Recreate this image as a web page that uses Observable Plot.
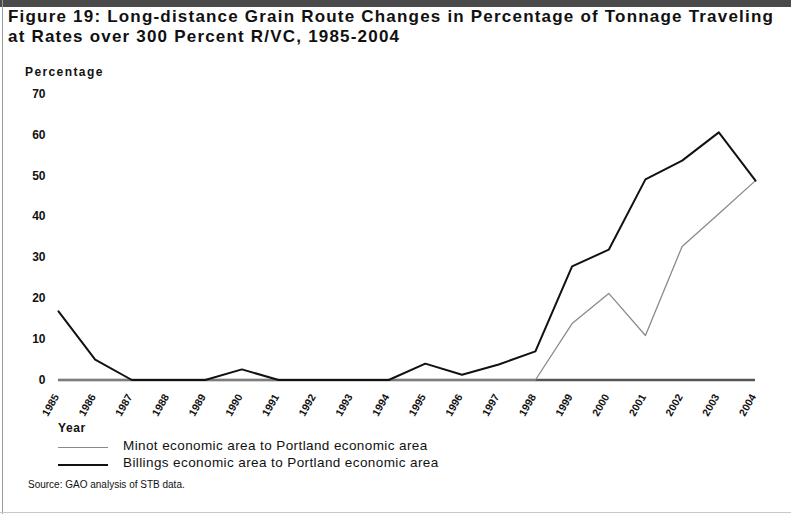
<!DOCTYPE html>
<html><head><meta charset="utf-8">
<script src="https://cdn.jsdelivr.net/npm/d3@7"></script>
<script src="https://cdn.jsdelivr.net/npm/@observablehq/plot@0.6"></script>
<style>
body{margin:0;background:#fff;}
#fig{position:relative;width:791px;height:514px;overflow:hidden;font-family:"Liberation Sans",Arial,Helvetica,sans-serif;color:#111;background:#fff;}
#bar{position:absolute;left:0;top:0;width:791px;height:7px;background:#4a4a4a;}
#lb{position:absolute;left:2px;top:0;width:1px;height:514px;background:#9a9a9a;}
#bb{position:absolute;left:0;top:512px;width:791px;height:1px;background:#c8c8c8;}
#title{position:absolute;left:8px;top:7px;font-weight:bold;font-size:17px;letter-spacing:1.2px;line-height:20px;white-space:nowrap;}
#ylab{position:absolute;left:25px;top:65px;font-weight:bold;font-size:12px;letter-spacing:1.4px;}
#chart{position:absolute;left:0;top:60px;}
#year{position:absolute;left:58px;top:421px;font-weight:bold;font-size:12px;letter-spacing:0.6px;}
.leg{position:absolute;left:58px;height:14px;font-size:13.5px;letter-spacing:0.4px;white-space:nowrap;}
.leg .sw{position:absolute;left:0;top:8px;width:50px;height:0;}
.leg .tx{position:absolute;left:65px;top:-1px;}
#src{position:absolute;left:28px;top:479px;font-size:10px;}
</style>
</head><body>
<div id="fig">
  <div id="bar"></div>
  <div id="lb"></div>
  <div id="bb"></div>
  <div id="title"></div>
  <div id="ylab"></div>
  <div id="chart"></div>
  <div id="year"></div>
  <div class="leg" id="leg0" style="top:439px"><div class="sw"></div><div class="tx"></div></div>
  <div class="leg" id="leg1" style="top:456px"><div class="sw"></div><div class="tx"></div></div>
  <div id="src"></div>
</div>
<script>
const titleLines = ["Figure 19: Long-distance Grain Route Changes in Percentage of Tonnage Traveling", "at Rates over 300 Percent R/VC, 1985-2004"];
const yAxisTitle = "Percentage";
const xAxisTitle = "Year";
const sourceNote = "Source: GAO analysis of STB data.";
const years = [1985, 1986, 1987, 1988, 1989, 1990, 1991, 1992, 1993, 1994, 1995, 1996, 1997, 1998, 1999, 2000, 2001, 2002, 2003, 2004];
const yTicks = [0, 10, 20, 30, 40, 50, 60, 70];
const seriesNames = ["Minot economic area to Portland economic area", "Billings economic area to Portland economic area"];
const seriesColors = ["#8a8a8a", "#111111"];
const seriesWidths = [1.3, 2];
const minot = [0, 0, 0, 0, 0, 0, 0, 0, 0, 0, 0, 0, 0, 0, 13.8, 21.2, 10.9, 32.7, 40.7, 48.8];
const billings = [16.8, 5.0, 0, 0, 0, 2.6, 0, 0, 0, 0, 4.0, 1.3, 3.8, 7.0, 27.8, 31.9, 49.1, 53.7, 60.6, 48.8];

const seriesValues = [minot, billings];
const rows = seriesValues.flatMap((vals, i) => years.map((yr, j) => ({year: yr, value: vals[j], series: seriesNames[i]})));

document.getElementById("title").innerHTML = titleLines.join("<br>");
document.getElementById("ylab").textContent = yAxisTitle;
document.getElementById("year").textContent = xAxisTitle;
document.getElementById("src").textContent = sourceNote;
seriesNames.forEach((n, i) => {
  const el = document.getElementById("leg" + i);
  el.querySelector(".tx").textContent = n;
  el.querySelector(".sw").style.borderTop = seriesWidths[i] + "px solid " + seriesColors[i];
});

const chart = Plot.plot({
  width: 791,
  height: 370,
  marginLeft: 58,
  marginRight: 36,
  marginTop: 33.5,
  marginBottom: 50.5,
  x: {domain: [years[0], years[years.length - 1]]},
  y: {domain: [yTicks[0], yTicks[yTicks.length - 1]]},
  style: {fontFamily: "'Liberation Sans', Arial, sans-serif", background: "transparent", color: "#111", overflow: "visible"},
  marks: [
    Plot.axisY({ticks: yTicks, tickSize: 0, tickPadding: 13, fontWeight: "bold", fontSize: 12, label: null}),
    Plot.axisX({ticks: years, tickFormat: d => String(d), tickSize: 0, tickPadding: 15, tickRotate: -60, fontWeight: "bold", fontSize: 10.5, dx: -2, label: null}),
    Plot.ruleY([0], {stroke: "#555", strokeWidth: 2.6}),
    Plot.line(rows.filter(d => d.series === seriesNames[0]), {x: "year", y: "value", stroke: seriesColors[0], strokeWidth: seriesWidths[0]}),
    Plot.line(rows.filter(d => d.series === seriesNames[1]), {x: "year", y: "value", stroke: seriesColors[1], strokeWidth: seriesWidths[1]})
  ]
});
document.getElementById("chart").appendChild(chart);
</script>
</body></html>
